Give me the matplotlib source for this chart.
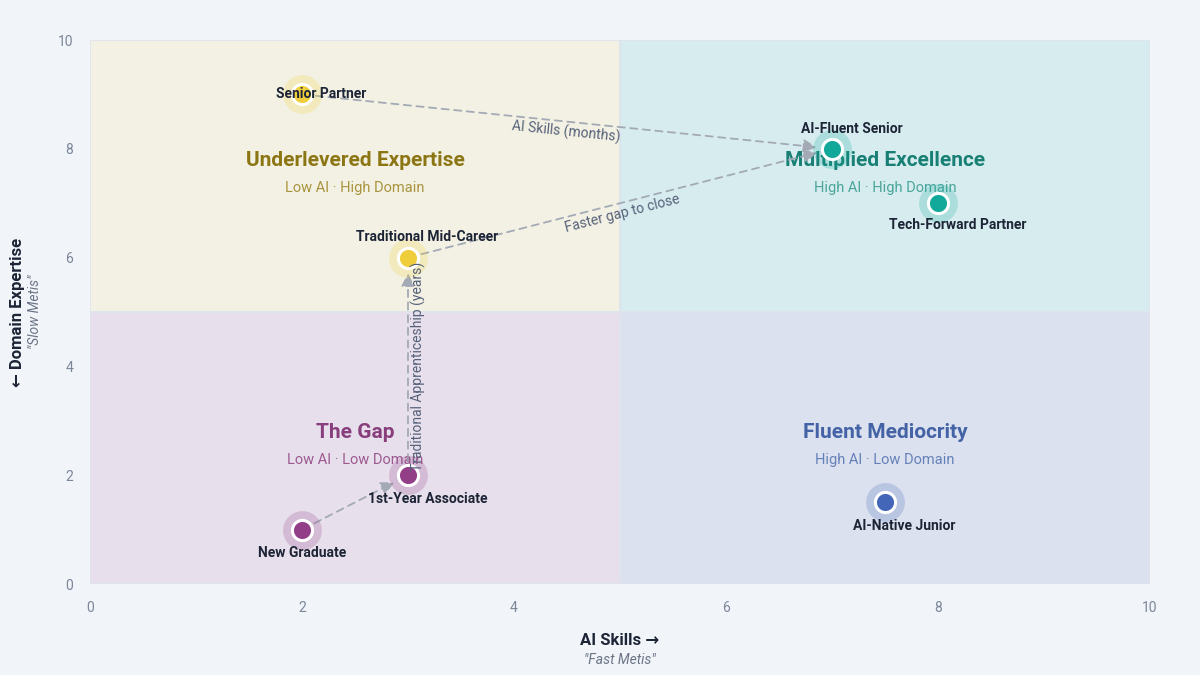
import math
import matplotlib
matplotlib.use("Agg")
import matplotlib.pyplot as plt
from matplotlib.patches import Rectangle

plt.rcParams['font.family'] = ['Roboto', 'DejaVu Sans']

# profiles
names = ["Senior Partner", "AI-Fluent Senior", "Tech-Forward Partner",
         "Traditional Mid-Career", "1st-Year Associate", "New Graduate",
         "AI-Native Junior"]
ai_skill = [2, 7, 8, 3, 3, 2, 7.5]
domain = [9, 8, 7, 6, 2, 1, 1.5]
group = ["under", "multi", "multi", "under", "gap", "gap", "fluent"]

# quadrants
quad_keys = ["under", "multi", "gap", "fluent"]
quad_titles = ["Underlevered Expertise", "Multiplied Excellence", "The Gap", "Fluent Mediocrity"]
quad_subs = ["Low AI · High Domain", "High AI · High Domain", "Low AI · Low Domain", "High AI · Low Domain"]
quad_x0 = [0, 5, 0, 5]
quad_y0 = [5, 5, 0, 0]

# transitions: (from index, to index, label)
paths = [(0, 1, "AI Skills (months)"),
         (3, 1, "Faster gap to close"),
         (4, 3, "Traditional Apprenticeship (years)"),
         (5, 4, "")]

x_ticks = [0, 2, 4, 6, 8, 10]
y_ticks = [0, 2, 4, 6, 8, 10]

fill = {"under": "#f3f1e3", "multi": "#d7ecef", "gap": "#e7dfeb", "fluent": "#dbe1ee"}
dot = {"under": "#f0cd3a", "multi": "#12a89a", "gap": "#923f88", "fluent": "#4466b8"}
title_c = {"under": "#8c7614", "multi": "#177f73", "gap": "#883e7c", "fluent": "#4462a6"}
sub_c = {"under": "#a8943f", "multi": "#4aa59a", "gap": "#9c5a91", "fluent": "#6681b9"}
# label offsets in points
offs = [(14, 0), (14, 14), (14, -16), (14, 15), (14, -17), (0, -17), (14, -17)]

fig = plt.figure(figsize=(12, 6.75), dpi=100)
fig.patch.set_facecolor('#f1f4f9')
ax = fig.add_axes([0.075, 0.1348, 0.8833, 0.8059])
ax.set_facecolor('#f1f4f9')
ax.set_xlim(0, 10)
ax.set_ylim(0, 10)

for k, x0, y0 in zip(quad_keys, quad_x0, quad_y0):
    ax.add_patch(Rectangle((x0, y0), 5, 5, facecolor=fill[k], edgecolor='#dfe4ec',
                           linewidth=1.2, zorder=0))

for k, t, s, x0, y0 in zip(quad_keys, quad_titles, quad_subs, quad_x0, quad_y0):
    cy = y0 + 2.78
    ax.text(x0 + 2.5, cy, t, ha='center', va='center', fontsize=15,
            fontweight='bold', color=title_c[k], zorder=2)
    ax.text(x0 + 2.5, cy - 0.5, s, ha='center', va='center', fontsize=10.5,
            color=sub_c[k], zorder=2)

for a, b, lab in paths:
    ax.annotate("", xy=(ai_skill[b], domain[b]), xytext=(ai_skill[a], domain[a]),
                arrowprops=dict(arrowstyle='-|>,head_length=0.8,head_width=0.4',
                                color='#a3aab5', lw=1.3, linestyle=(0, (4, 3)),
                                shrinkA=10, shrinkB=11), zorder=3)
    if lab:
        p0 = ax.transData.transform((ai_skill[a], domain[a]))
        p1 = ax.transData.transform((ai_skill[b], domain[b]))
        ang = math.degrees(math.atan2(p1[1] - p0[1], p1[0] - p0[0]))
        if ang > 90:
            ang -= 180
        if ang < -90:
            ang += 180
        mx = (ai_skill[a] + ai_skill[b]) / 2
        my = (domain[a] + domain[b]) / 2
        rad = math.radians(ang)
        # shift perpendicular (below the line / right of vertical)
        dx, dy = 7.5 * math.sin(rad), -7.5 * math.cos(rad)
        ax.annotate(lab, xy=(mx, my), xytext=(dx, dy), textcoords='offset points',
                    ha='center', va='center', rotation=ang, rotation_mode='anchor',
                    fontsize=10, color='#55617a', zorder=6)

for x, y, g in zip(ai_skill, domain, group):
    ax.scatter(x, y, s=28 ** 2, color=dot[g], alpha=0.22, linewidths=0, zorder=4)
    ax.scatter(x, y, s=14.5 ** 2, color=dot[g], edgecolors='white', linewidths=2.2, zorder=5)

for n, x, y, o in zip(names, ai_skill, domain, offs):
    ax.annotate(n, xy=(x, y), xytext=o, textcoords='offset points', ha='center',
                va='center', fontsize=10, fontweight='bold', color='#1c2436', zorder=7)

ax.set_xticks(x_ticks)
ax.set_yticks(y_ticks)
ax.tick_params(length=0, pad=12, labelsize=10, labelcolor='#7b8699')
for sp in ax.spines.values():
    sp.set_visible(False)

fig.text(0.5167, 0.051, "AI Skills →", ha='center', va='center', fontsize=12,
         fontweight='bold', color='#1c2436')
fig.text(0.5167, 0.022, '"Fast Metis"', ha='center', va='center', fontsize=10,
         style='italic', color='#6b7486')
fig.text(0.015, 0.5377, "← Domain Expertise", ha='center', va='center', fontsize=12,
         fontweight='bold', color='#1c2436', rotation=90)
fig.text(0.029, 0.5377, '"Slow Metis"', ha='center', va='center', fontsize=10,
         style='italic', color='#6b7486', rotation=90)

fig.savefig('out.png', dpi=100, facecolor=fig.get_facecolor())
